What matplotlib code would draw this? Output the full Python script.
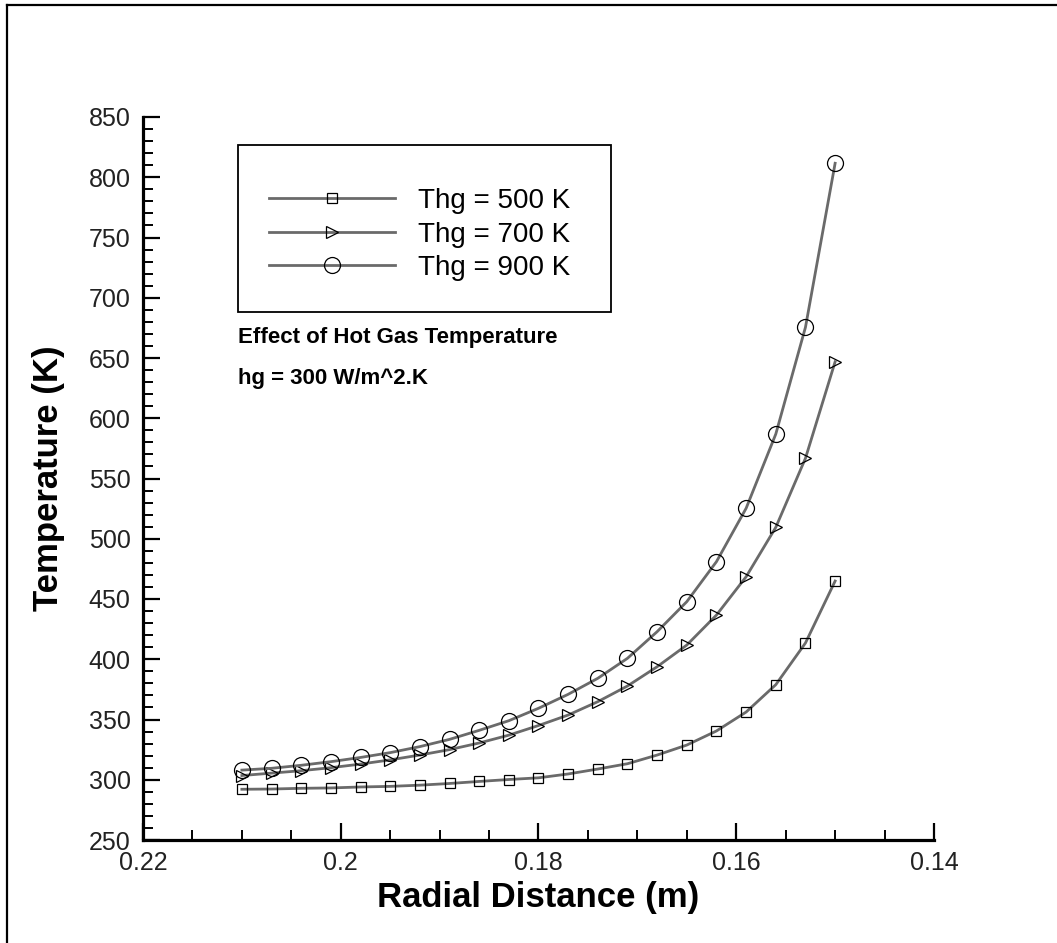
import matplotlib
matplotlib.use('Agg')
import matplotlib.pyplot as plt
from matplotlib.lines import Line2D
from matplotlib.patches import Rectangle
from matplotlib.ticker import MultipleLocator

# radial positions (m)
radius = [0.210, 0.207, 0.204, 0.201, 0.198, 0.195, 0.192, 0.189, 0.186, 0.183, 0.180,
          0.177, 0.174, 0.171, 0.168, 0.165, 0.162, 0.159, 0.156, 0.153, 0.150]

# temperature (K) for each hot gas temperature
temp_500 = [292.1, 292.3, 292.9, 293.2, 294.0, 294.5, 295.5, 296.9, 298.6, 300.2, 301.6,
            304.8, 308.9, 313.3, 320.5, 328.8, 340.5, 356.2, 378.9, 413.5, 464.9]
temp_700 = [303.5, 305.5, 307.5, 310.0, 313.0, 316.5, 320.5, 325.0, 330.5, 337.0, 345.0,
            353.7, 364.8, 377.8, 393.8, 411.8, 436.7, 468.5, 509.5, 566.8, 646.9]
temp_900 = [308.0, 309.5, 312.0, 315.0, 318.5, 322.5, 327.5, 333.5, 341.0, 349.0, 359.3,
            370.9, 384.2, 400.8, 422.9, 447.8, 481.0, 525.3, 586.9, 675.5, 811.6]

labels = ['Thg = 500 K', 'Thg = 700 K', 'Thg = 900 K']

plt.rcParams['font.family'] = ['Liberation Sans', 'DejaVu Sans']

W, H = 1057, 943
fig = plt.figure(figsize=(W / 100, H / 100), dpi=100)
ax = fig.add_axes([143 / W, 1 - 840 / H, (934 - 143) / W, (840 - 117) / H])

line_col = '#6a6a6a'
style = dict(color=line_col, lw=2.0, mec='black', mfc='none', mew=0.9)
ax.plot(radius, temp_500, marker='s', ms=7.5, label=labels[0], **style)
ax.plot(radius, temp_700, marker='>', ms=9, label=labels[1], **style)
ax.plot(radius, temp_900, marker='o', ms=11.5, label=labels[2], **style)

ax.set_xlim(0.22, 0.14)
ax.set_ylim(250, 850)
ax.xaxis.set_major_locator(MultipleLocator(0.02))
ax.xaxis.set_minor_locator(MultipleLocator(0.005))
ax.yaxis.set_major_locator(MultipleLocator(50))
ax.yaxis.set_minor_locator(MultipleLocator(10))
ax.xaxis.set_major_formatter(plt.FuncFormatter(lambda v, p: ('%.2f' % v).rstrip('0')))

for s in ['top', 'right']:
    ax.spines[s].set_visible(False)
for s in ['left', 'bottom']:
    ax.spines[s].set_linewidth(2.3)
ax.tick_params(which='major', direction='in', length=12.5, width=1.6,
               labelsize=18, labelcolor='#222222', pad=9)
ax.tick_params(which='minor', direction='in', length=7.2, width=1.4)
ax.tick_params(axis='x', which='major', pad=8)

ax.set_xlabel('Radial Distance (m)', fontsize=25, fontweight='bold', labelpad=4)
ax.set_ylabel('Temperature (K)', fontsize=25, fontweight='bold', labelpad=17)

# legend box
ax.add_patch(Rectangle(((238 - 143) / 791, (840 - 312) / 723), (611 - 238) / 791,
                       (312 - 145) / 723, transform=ax.transAxes, fill=False,
                       ec='black', lw=1.3, clip_on=False))
ax.legend(loc='upper left', bbox_to_anchor=((269 - 143) / 791, (840 - 188) / 723),
          frameon=False, fontsize=20, handlelength=4.55, handletextpad=0.8,
          labelspacing=0.27, borderpad=0, borderaxespad=0)

ax.text((238 - 143) / 791, (840 - 338) / 723, 'Effect of Hot Gas Temperature',
        transform=ax.transAxes, fontsize=16, fontweight='bold', va='center', ha='left')
ax.text((238 - 143) / 791, (840 - 378) / 723, 'hg = 300 W/m^2.K',
        transform=ax.transAxes, fontsize=16, fontweight='bold', va='center', ha='left')

# outer frame (left and top edges visible)
fig.add_artist(Line2D([7 / W, 7 / W], [0, 1 - 5 / H], color='black', lw=1.6))
fig.add_artist(Line2D([7 / W, 1], [1 - 5 / H, 1 - 5 / H], color='black', lw=1.6))

fig.savefig('out.png', dpi=100)
